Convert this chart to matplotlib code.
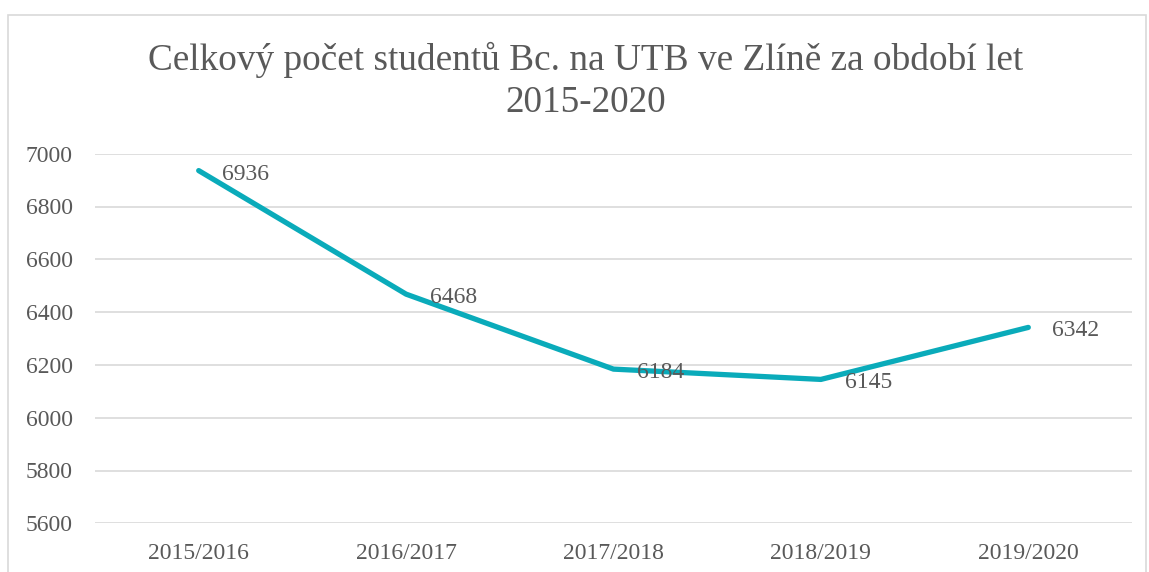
import matplotlib
matplotlib.use("Agg")
import matplotlib.pyplot as plt
from matplotlib.patches import Rectangle

categories = ["2015/2016", "2016/2017", "2017/2018", "2018/2019", "2019/2020"]
values = [6936, 6468, 6184, 6145, 6342]
yticks = [5600, 5800, 6000, 6200, 6400, 6600, 6800, 7000]
title = "Celkový počet studentů Bc. na UTB ve Zlíně za období let\n2015-2020"

plt.rcParams['font.family'] = ['Liberation Serif', 'DejaVu Serif']
W, H = 1149, 572
fig = plt.figure(figsize=(W/100, H/100), dpi=100)
txt = "#595959"

fig.patches.append(Rectangle((8/W, -0.05), (1146-8)/W, 1.05 - 15/H,
                             transform=fig.transFigure, fill=False,
                             edgecolor="#D9D9D9", linewidth=1.2))

l, r, t, b = 95, 1132, 153.7, 523.3
ax = fig.add_axes([l/W, 1-b/H, (r-l)/W, (b-t)/H])
x = list(range(len(categories)))
ax.plot(x, values, color="#0AABBA", linewidth=3.8, solid_capstyle="round", solid_joinstyle="round")
for xi, v in zip(x, values):
    ax.annotate(str(v), (xi, v), xytext=(17, -2.5), textcoords="offset points",
                ha="left", va="center", fontsize=17, color=txt)
ax.set_xlim(-0.5, len(categories)-0.5)
ax.set_ylim(yticks[0], yticks[-1])
ax.set_yticks(yticks)
ax.set_xticks(x)
ax.set_xticklabels(categories)
ax.tick_params(axis="both", length=0, labelsize=17, colors=txt)
ax.tick_params(axis="y", pad=16)
ax.tick_params(axis="x", pad=14)
ax.grid(axis="y", color="#D9D9D9", linewidth=1.2)
ax.set_axisbelow(True)
for s in ax.spines.values():
    s.set_visible(False)

fig.text(586/W, 1-81/H, title, ha="center", va="center", fontsize=26.8,
         color=txt, linespacing=1.27)

fig.savefig("out.png", dpi=100)
